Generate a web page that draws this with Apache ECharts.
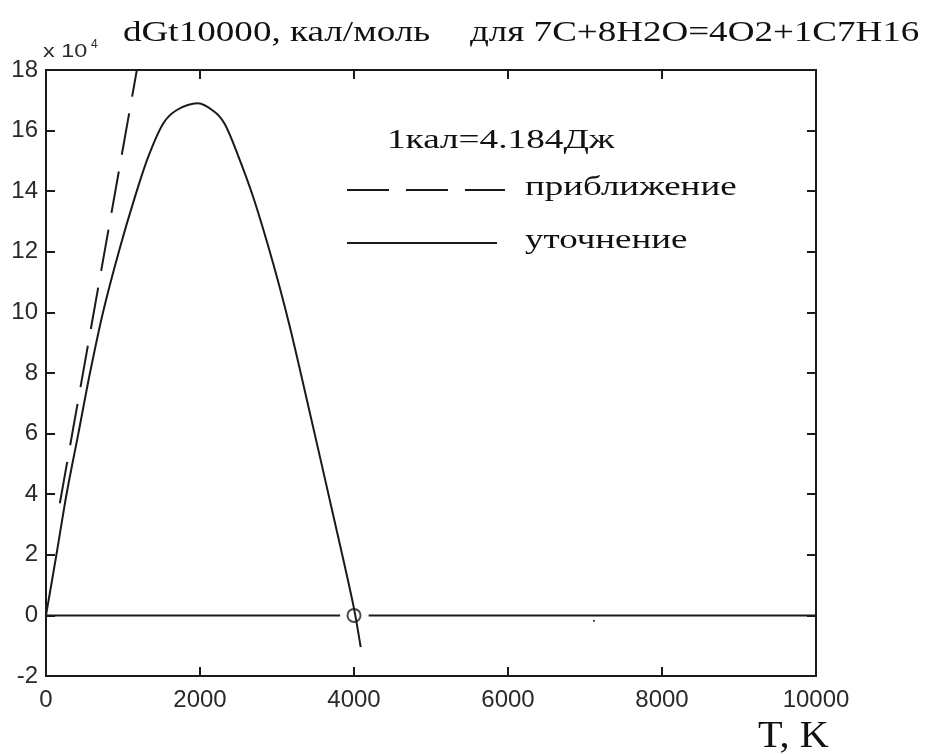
<!DOCTYPE html>
<html>
<head>
<meta charset="utf-8">
<script src="https://cdn.jsdelivr.net/npm/echarts@6/dist/echarts.min.js"></script>
<style>
  html, body { margin: 0; padding: 0; background: #fff; }
  #chart { width: 926px; height: 754px; }
</style>
</head>
<body>
<div id="chart"></div>
<script>
// Temperature axis (K) and Gibbs energy axis (x 10^4 cal/mol)
const tempTicks = [0, 2000, 4000, 6000, 8000, 10000];
const energyTicks = [-2, 0, 2, 4, 6, 8, 10, 12, 14, 16, 18];

// Refined dG(T) curve, units of 10^4 cal/mol
const refinedT = [0, 139, 269, 420, 571, 740, 952, 1156, 1329, 1524, 1700, 1970, 2200, 2325, 2476, 2692, 2952, 3169, 3407, 3731, 3991, 4087];
const refinedG = [0, 2.06, 4.03, 6.0, 8.0, 10.0, 12.06, 13.82, 15.14, 16.24, 16.68, 16.9, 16.6, 16.2, 15.3, 13.8, 11.6, 9.5, 6.9, 3.3, 0.34, -1.05];

// Linear approximation
const approxT = [180, 1180];
const approxG = [3.7, 18];

// Zero reference line (broken around the root marker)
const zeroT = [0, 3820, null, 4190, 10000];
const zeroG = [0, 0, null, 0, 0];

// Root of dG(T) = 0
const rootT = [4000];
const rootG = [0];

// Stray point
const dotT = [7116];
const dotG = [-0.18];

const pairs = (xs, ys) => xs.map((x, i) => (x === null ? '-' : [x, ys[i]]));

const ink = '#1a1a1a';
const serif = '"Liberation Serif", "Times New Roman", serif';
const sans = 'Liberation Sans';

const axisLine = { show: true, onZero: false, lineStyle: { color: ink, width: 2 } };
const tick = { show: true, inside: true, length: 9, lineStyle: { color: ink, width: 2 } };
const plain = (v) => String(v);

const label = (text, x, y, size, family, sx, fill) => ({
  type: 'text', x, y, scaleX: sx || 1,
  style: { text, fontSize: size, fontFamily: family, fill: fill || '#111', verticalAlign: 'middle' }
});

const chart = echarts.init(document.getElementById('chart'), null, { renderer: 'canvas' });

chart.setOption({
  backgroundColor: '#ffffff',
  animation: false,
  grid: { left: 46, right: 110, top: 70, bottom: 78, containLabel: false },
  xAxis: [
    {
      type: 'value', position: 'bottom',
      min: tempTicks[0], max: tempTicks[tempTicks.length - 1], interval: tempTicks[1] - tempTicks[0],
      axisLine, axisTick: tick,
      axisLabel: { fontSize: 24, fontFamily: sans, color: '#2a2a2a', margin: 12, formatter: plain },
      splitLine: { show: false }
    },
    {
      type: 'value', position: 'top',
      min: tempTicks[0], max: tempTicks[tempTicks.length - 1], interval: tempTicks[1] - tempTicks[0],
      axisLine, axisTick: tick, axisLabel: { show: false }, splitLine: { show: false }
    }
  ],
  yAxis: [
    {
      type: 'value', position: 'left',
      min: energyTicks[0], max: energyTicks[energyTicks.length - 1], interval: energyTicks[1] - energyTicks[0],
      axisLine, axisTick: tick,
      axisLabel: { fontSize: 24, fontFamily: sans, color: '#2a2a2a', margin: 8, formatter: plain },
      splitLine: { show: false }
    },
    {
      type: 'value', position: 'right',
      min: energyTicks[0], max: energyTicks[energyTicks.length - 1], interval: energyTicks[1] - energyTicks[0],
      axisLine, axisTick: tick, axisLabel: { show: false }, splitLine: { show: false }
    }
  ],
  series: [
    {
      name: 'приближение', type: 'line', showSymbol: false, symbol: 'none', clip: true,
      data: pairs(approxT, approxG),
      lineStyle: { color: ink, width: 2, type: [42, 17] }
    },
    {
      name: 'уточнение', type: 'line', showSymbol: false, symbol: 'none', clip: true,
      smooth: 0.3,
      data: pairs(refinedT, refinedG),
      lineStyle: { color: ink, width: 2 }
    },
    {
      name: 'zero', type: 'line', showSymbol: false, symbol: 'none', connectNulls: false,
      data: pairs(zeroT, zeroG),
      lineStyle: { color: ink, width: 2 }
    },
    {
      name: 'root', type: 'scatter', symbol: 'circle', symbolSize: 13,
      data: pairs(rootT, rootG),
      itemStyle: { color: '#ffffff', borderColor: ink, borderWidth: 2 }
    },
    {
      name: 'dot', type: 'scatter', symbol: 'rect', symbolSize: 2,
      data: pairs(dotT, dotG),
      itemStyle: { color: ink }
    }
  ],
  graphic: [
    // title
    label('dGt10000, кал/моль', 123, 33, 29, serif, 1.28),
    label('для 7C+8H2O=4O2+1C7H16', 470, 33, 29, serif, 1.277),
    // axis multiplier
    label('x 10', 43, 52, 18, sans, 1.3, '#2a2a2a'),
    label('4', 91, 45, 12, sans, 1, '#2a2a2a'),
    // annotation and key
    label('1кал=4.184Дж', 387, 141, 28, serif, 1.33),
    { type: 'line', shape: { x1: 347, y1: 190, x2: 505, y2: 190 },
      style: { stroke: ink, lineWidth: 2, lineDash: [42, 17] } },
    label('приближение', 525, 188, 28, serif, 1.32),
    { type: 'line', shape: { x1: 347, y1: 243, x2: 497, y2: 243 },
      style: { stroke: ink, lineWidth: 2 } },
    label('уточнение', 525, 241, 28, serif, 1.32),
    // x axis name
    label('T, K', 758, 737, 38, serif, 1.06)
  ]
});
</script>
</body>
</html>
